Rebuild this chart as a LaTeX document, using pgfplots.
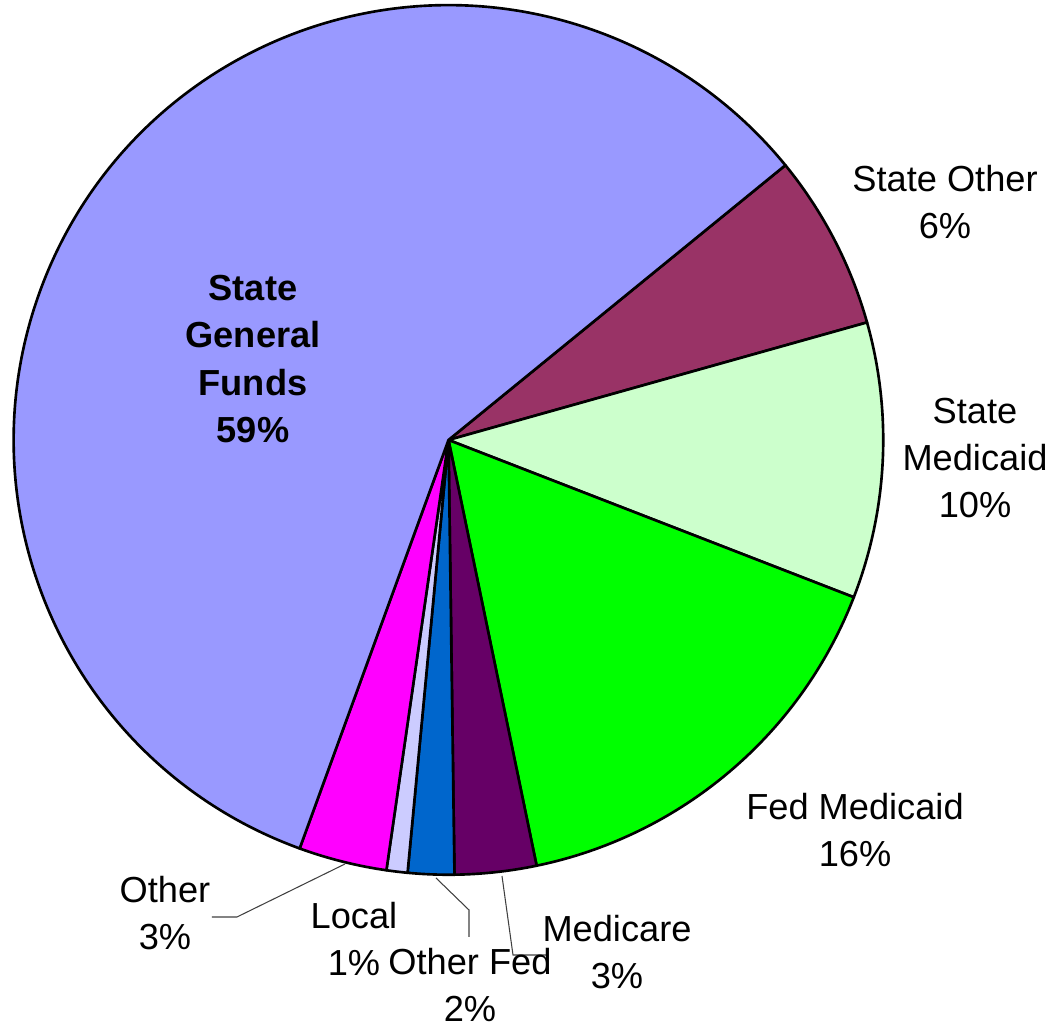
\documentclass[border=0pt]{standalone}
\usepackage{fontspec}
\setmainfont{Liberation Sans}
\usepackage{pgfplots}
\usepackage{pgfplotstable}
\pgfplotsset{compat=1.18}

\definecolor{cStateGF}{HTML}{9999FF}
\definecolor{cStateOther}{HTML}{993366}
\definecolor{cStateMcd}{HTML}{CCFFCC}
\definecolor{cFedMcd}{HTML}{00FF00}
\definecolor{cMedicare}{HTML}{660066}
\definecolor{cOtherFed}{HTML}{0066CC}
\definecolor{cLocal}{HTML}{CCCCFF}
\definecolor{cOther}{HTML}{FF00FF}

% slices clockwise, starting at the State General Funds / State Other edge
\pgfplotstableread{
name          value  col
StateOther    6.53   cStateOther
StateMedicaid 10.25  cStateMcd
FedMedicaid   15.86  cFedMcd
Medicare      3.03   cMedicare
OtherFed      1.72   cOtherFed
Local         0.78   cLocal
Other         3.28   cOther
StateGeneral  58.55  cStateGF
}\piedata

\tikzset{lbl/.style={font=\fontsize{10.3}{13.4}\selectfont, align=center, inner sep=0pt}}

\begin{document}
\begin{tikzpicture}
\begin{axis}[
    x=0.01cm, y=0.01cm,
    xmin=0, xmax=1052, ymin=0, ymax=1026,
    hide axis, clip=false,
]
\pgfplotstablegetrowsof{\piedata}
\pgfmathtruncatemacro{\nrows}{\pgfplotsretval-1}
\def\startangle{39.2}
\pgfplotsforeachungrouped \i in {0,...,\nrows}{
    \pgfplotstablegetelem{\i}{value}\of\piedata \let\val\pgfplotsretval
    \pgfplotstablegetelem{\i}{col}\of\piedata \let\col\pgfplotsretval
    \pgfmathsetmacro{\endangle}{\startangle-3.6*\val}
    \edef\temp{\noexpand\filldraw[fill=\col, draw=black, line width=0.75pt, line join=round]
        (axis cs:448.5,586) -- ++(\startangle:4.345cm)
        arc[start angle=\startangle, end angle=\endangle, radius=4.345cm] -- cycle;}
    \temp
    \global\let\startangle\endangle
}

% leader lines
\draw[black!75, line width=0.3pt] (axis cs:345,162) -- (axis cs:237,109) -- (axis cs:212,109);
\draw[black!75, line width=0.3pt] (axis cs:436,148) -- (axis cs:469,116) -- (axis cs:469,89);
\draw[black!75, line width=0.3pt] (axis cs:502,150) -- (axis cs:513,71) -- (axis cs:547,71);

% labels
\node[lbl, font=\fontsize{10.3}{13.4}\selectfont\bfseries] at (axis cs:253,667) {State\\General\\Funds\\59\%};
\node[lbl] at (axis cs:945,824) {State Other\\6\%};
\node[lbl] at (axis cs:975,568) {State\\Medicaid\\10\%};
\node[lbl] at (axis cs:855,196) {Fed Medicaid\\16\%};
\node[lbl] at (axis cs:617,74) {Medicare\\3\%};
\node[lbl] at (axis cs:470,41) {Other Fed\\2\%};
\node[lbl] at (axis cs:354,87) {Local\\1\%};
\node[lbl] at (axis cs:165,113) {Other\\3\%};
\end{axis}
\pgfresetboundingbox
\path[use as bounding box] (current axis.south west) rectangle (current axis.north east);
\end{tikzpicture}
\end{document}
